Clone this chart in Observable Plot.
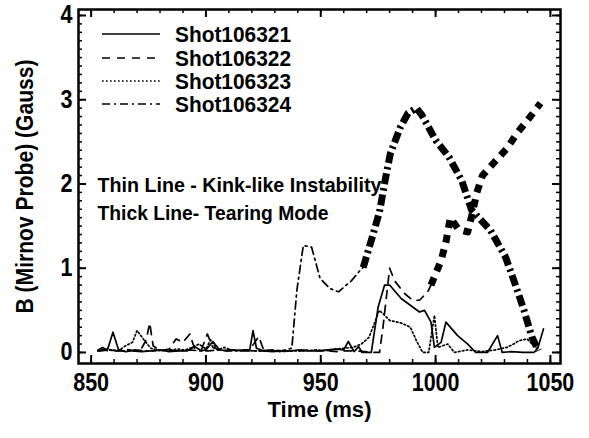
<!DOCTYPE html>
<html><head><meta charset="utf-8">
<script src="https://cdn.jsdelivr.net/npm/d3@7"></script>
<script src="https://cdn.jsdelivr.net/npm/@observablehq/plot@0.6"></script>
<style>
body{margin:0;background:#fff;}
#wrap{position:relative;width:589px;height:438px;}
#legend{position:absolute;left:0;top:0;pointer-events:none;}
</style></head><body><div id="wrap"></div>
<script>
// ---- data ----
const xTickLabels = [850, 900, 950, 1000, 1050];
const yTickLabels = [0, 1, 2, 3, 4];
const seriesNames = ["Shot106321", "Shot106322", "Shot106323", "Shot106324"];

// Shot106321 (solid, thin)
const t321 = [853,855,857,859.5,862,865,868,872,876,880,884,888,892,895,898,900,903,906,909,912,916,919,920.5,922,925,929,933,937,941,945,949,953,957,960,962,964.5,966.5,968,972,975,977.8,980,985,989,993,995.2,998,999.5,1002.4,1004.5,1009.6,1014,1017.5,1022.6,1027,1029,1033,1038,1042.8,1044.5,1047];
const v321 = [0.03,0.06,0.02,0.24,0.03,0.01,0.02,0.01,0.02,0.03,0.01,0.02,0.02,0.07,0.02,0.03,0.13,0.03,0.02,0.03,0.02,0.02,0.26,0.05,0.02,0.01,0.02,0.02,0.03,0.02,0.02,0.03,0.04,0.03,0.13,0.01,0.07,0.0,0.0,0.54,0.8,0.8,0.64,0.56,0.48,0.5,0.36,0.06,0.12,0.36,0.2,0.1,0.0,0.0,0.2,0.0,0.01,0.0,0.0,0.05,0.28];

// Shot106322 (dashed): thin part, then thick (tearing) part
const t322 = [853,857,861,865,869,872,874,875.5,877,880,884,887,890,893,895,898,900.6,903,907,911,915,919,923,925,929,933,937,941,945,949,953,957,961,965,969,973,975.6,977.1,980,982.2,986.5,990,993,996.6,998];
const v322 = [0.02,0.03,0.02,0.04,0.02,0.05,0.15,0.35,0.08,0.02,0.04,0.16,0.12,0.22,0.05,0.03,0.22,0.06,0.02,0.03,0.02,0.03,0.19,0.04,0.02,0.01,0.02,0.02,0.03,0.02,0.02,0.01,0.02,0.02,0.01,0.0,0.0,0.3,1.0,0.85,0.7,0.62,0.62,0.72,0.8];
const t322thick = [998,1002.4,1004.5,1006.4,1010,1014,1016,1018,1020.4,1025,1031,1035.7,1041,1045.7];
const v322thick = [0.8,1.09,1.31,1.6,1.46,1.43,1.65,1.9,2.1,2.24,2.42,2.61,2.79,2.96];

// Shot106323 (dotted, thin)
const t323 = [853,856,859,862,865,868,870,873,876,880,884,888,891,894,897,900,902,905,908,912,916,920,924,928,932,936,940,944,948,952,956,960,964,967.7,971,973,975.5,977.5,980,985,989,992,994.4,997,999.5,1001,1005.3,1008.2,1014,1020,1026,1031,1034,1036.3,1039.9,1042,1044];
const v323 = [0.02,0.04,0.03,0.02,0.08,0.12,0.26,0.15,0.05,0.02,0.03,0.04,0.03,0.06,0.10,0.04,0.15,0.03,0.06,0.02,0.03,0.02,0.02,0.03,0.01,0.02,0.02,0.02,0.03,0.02,0.04,0.05,0.06,0.1,0.18,0.32,0.5,0.45,0.38,0.35,0.3,0.12,0.0,0.0,0.44,0.06,0.1,0.0,0.03,0.01,0.03,0.06,0.1,0.14,0.16,0.1,0.05];

// Shot106324 (dash-dot): thin part, then thick (tearing) part
const t324 = [853,857,861,865,869,873,877,881,885,889,893,897,901,905,909,913,917,921,925,929,933,937.4,939.6,942.4,946,949.7,953.9,957.7,963.3,967,968.5];
const v324 = [0.02,0.03,0.02,0.02,0.03,0.02,0.02,0.03,0.02,0.02,0.03,0.02,0.02,0.03,0.02,0.02,0.03,0.02,0.02,0.03,0.02,0.05,0.74,1.27,1.25,0.88,0.76,0.72,0.85,0.97,1.01];
const t324thick = [968.5,972,975.6,978,980.3,984.6,988,991.7,994,997,1000,1005.8,1011.4,1015.7,1023.9,1030.5,1034.8,1038.5,1042,1044.8];
const v324thick = [1.01,1.33,1.67,2.04,2.36,2.67,2.84,2.9,2.82,2.67,2.52,2.32,2.04,1.69,1.45,1.13,0.8,0.5,0.18,0.02];

const annotationLines = ["Thin Line - Kink-like Instability", "Thick Line- Tearing Mode"];
const xLabel = "Time (ms)";
const yLabel = "B (Mirnov Probe) (Gauss)";

// ---- layout / style ----
const FONT = '"Liberation Sans",Arial,Helvetica,sans-serif';
const W = 589, H = 438, mL = 78, mR = 29, mT = 9, mB = 75;
const innerW = W - mL - mR, innerH = H - mT - mB;
const xMinor = d3.range(850, 1051, 10);
const yMinor = d3.range(0, 41, 1).map(d => d / 10);

const rows = (t, v) => t.map((d, i) => ({t: d, v: v[i]}));
const thin = 1.7, thick = 7;
const dashes = [null, "8,7", "1.6,2.4", "8,4,2,4"];

const chart = Plot.plot({
  width: W, height: H,
  marginLeft: mL, marginRight: mR, marginTop: mT, marginBottom: mB,
  style: {fontFamily: FONT, background: "#fff", color: "#000", overflow: "visible"},
  x: {domain: [844.5, 1054.4]},
  y: {domain: [-0.131, 4.071]},
  marks: [
    Plot.line(rows(t321, v321), {x: "t", y: "v", stroke: "#000", strokeWidth: thin}),
    Plot.line(rows(t322, v322), {x: "t", y: "v", stroke: "#000", strokeWidth: thin, strokeDasharray: dashes[1]}),
    Plot.line(rows(t323, v323), {x: "t", y: "v", stroke: "#000", strokeWidth: thin, strokeDasharray: dashes[2]}),
    Plot.line(rows(t324, v324), {x: "t", y: "v", stroke: "#000", strokeWidth: thin, strokeDasharray: dashes[3]}),
    Plot.line(rows(t322thick, v322thick), {x: "t", y: "v", stroke: "#000", strokeWidth: thick, strokeDasharray: "8,7", strokeLinecap: "butt"}),
    Plot.line(rows(t324thick, v324thick), {x: "t", y: "v", stroke: "#000", strokeWidth: thick, strokeDasharray: "11,4,2.5,4", strokeLinecap: "butt"}),
    // ticks (inward, all four sides)
    Plot.ruleX(xMinor, {stroke: "#000", strokeWidth: 1.5, insetTop: innerH - 4}),
    Plot.ruleX(xMinor, {stroke: "#000", strokeWidth: 1.5, insetBottom: innerH - 4}),
    Plot.ruleX(xTickLabels, {stroke: "#000", strokeWidth: 2, insetTop: innerH - 8}),
    Plot.ruleX(xTickLabels, {stroke: "#000", strokeWidth: 2, insetBottom: innerH - 8}),
    Plot.ruleY(yMinor, {stroke: "#000", strokeWidth: 1.5, insetRight: innerW - 4}),
    Plot.ruleY(yMinor, {stroke: "#000", strokeWidth: 1.5, insetLeft: innerW - 4}),
    Plot.ruleY(yTickLabels, {stroke: "#000", strokeWidth: 2, insetRight: innerW - 8}),
    Plot.ruleY(yTickLabels, {stroke: "#000", strokeWidth: 2, insetLeft: innerW - 8}),
    Plot.frame({stroke: "#000", strokeWidth: 2.5}),
    Plot.axisX(xTickLabels, {tickSize: 0, tickPadding: 10, fontSize: 25, fontWeight: "bold", label: null, tickFormat: d => String(d)}),
    Plot.axisY(yTickLabels, {tickSize: 0, tickPadding: 6, fontSize: 25, fontWeight: "bold", label: null, tickFormat: d => String(d)}),
    Plot.text([xLabel], {text: d => d, frameAnchor: "bottom", dy: 46, lineAnchor: "middle", fontSize: 22, fontWeight: "bold", fill: "#000"}),
    Plot.text([yLabel], {text: d => d, frameAnchor: "left", dx: -53, rotate: -90, textAnchor: "middle", lineAnchor: "middle", fontSize: 23, fontWeight: "bold", fill: "#000"}),
    Plot.text([annotationLines[0]], {text: d => d, frameAnchor: "top-left", dx: 19, dy: 176, textAnchor: "start", lineAnchor: "middle", fontSize: 21, fontWeight: "bold", fill: "#000"}),
    Plot.text([annotationLines[1]], {text: d => d, frameAnchor: "top-left", dx: 19, dy: 204, textAnchor: "start", lineAnchor: "middle", fontSize: 21, fontWeight: "bold", fill: "#000"})
  ]
});
document.getElementById("wrap").appendChild(chart);

// ---- legend (overlay) ----
const legendY = [34, 58, 81, 104];
const lg = d3.select("#wrap").append("svg").attr("id", "legend").attr("width", W).attr("height", 130);
seriesNames.forEach((name, i) => {
  lg.append("line").attr("x1", 102).attr("x2", 160).attr("y1", legendY[i]).attr("y2", legendY[i])
    .attr("stroke", "#000").attr("stroke-width", thin)
    .attr("stroke-dasharray", dashes[i]);
  lg.append("text").attr("x", 175).attr("y", legendY[i]).attr("dy", "0.36em")
    .attr("font-family", FONT).attr("font-weight", "bold").attr("font-size", 22)
    .text(name);
});

// ---- condense the bold sans glyphs to the narrow look of the reference ----
const targetWidths = {
  "Time (ms)": 104,
  "B (Mirnov Probe) (Gauss)": 254,
  "Thin Line - Kink-like Instability": 284,
  "Thick Line- Tearing Mode": 231,
  "Shot106321": 116, "Shot106322": 116, "Shot106323": 116, "Shot106324": 116
};
document.querySelectorAll("#wrap text").forEach(t => {
  if (t.querySelector("tspan")) return;
  const w = t.getComputedTextLength();
  if (!w) return;
  const target = targetWidths[t.textContent] ?? w * 0.86;
  t.setAttribute("textLength", target);
  t.setAttribute("lengthAdjust", "spacingAndGlyphs");
});
</script>
</body></html>
